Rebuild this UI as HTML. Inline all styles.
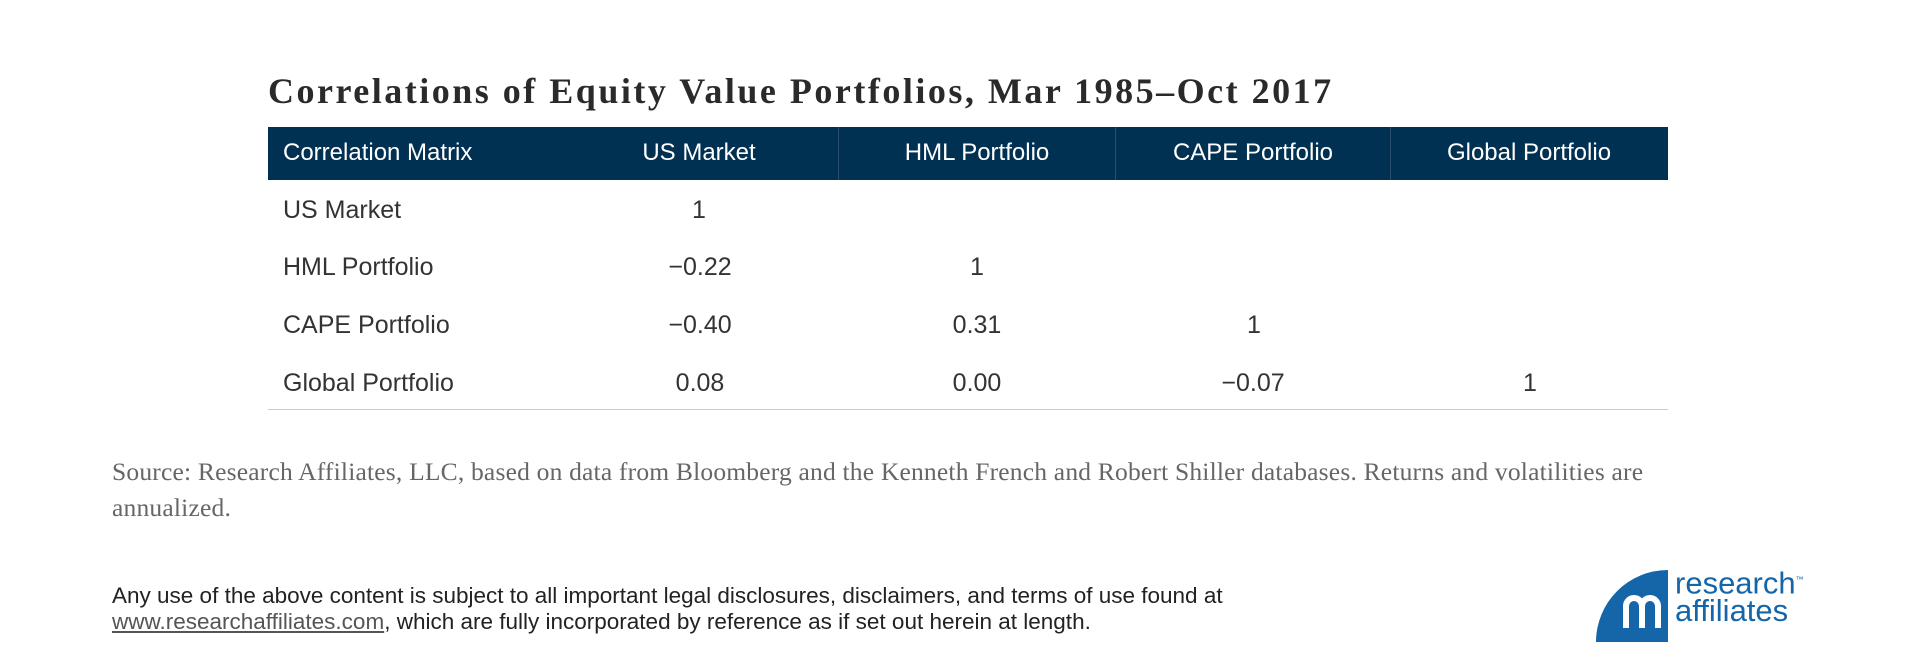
<!DOCTYPE html>
<html><head><style>
body{margin:0;width:1920px;height:670px;background:#fff;position:relative;overflow:hidden;font-family:"Liberation Sans",sans-serif}
.t{position:absolute;white-space:nowrap}
.title{left:268px;top:70px;font-family:"Liberation Serif",serif;font-weight:bold;font-size:36px;letter-spacing:2.5px;color:#2a2a2a}
.hdr{position:absolute;left:268px;top:127px;width:1400px;height:53px;background:#003152}
.sep{position:absolute;top:127px;width:1px;height:53px;background:#2a4e6b}
.h{color:#fff;font-size:24px;top:139px}
.c{font-size:25px;color:#333}
.ctr{transform:translateX(-50%)}
.line{position:absolute;left:268px;top:409px;width:1400px;height:1px;background:#ccc}
.src{left:112px;font-family:"Liberation Serif",serif;font-size:25.5px;letter-spacing:0.2px;color:#666}
.dis{left:112px;font-size:22.5px;color:#222}
</style></head><body>
<div class="t title">Correlations of Equity Value Portfolios, Mar 1985–Oct 2017</div>
<div class="hdr"></div>
<div class="sep" style="left:838px"></div><div class="sep" style="left:1115px"></div><div class="sep" style="left:1390px"></div>
<div class="t h" style="left:283px">Correlation Matrix</div>
<div class="t h ctr" style="left:699px">US Market</div>
<div class="t h ctr" style="left:977px">HML Portfolio</div>
<div class="t h ctr" style="left:1253px">CAPE Portfolio</div>
<div class="t h ctr" style="left:1529px">Global Portfolio</div>

<div class="t c" style="left:283px;top:196px">US Market</div>
<div class="t c" style="left:283px;top:253px">HML Portfolio</div>
<div class="t c" style="left:283px;top:311px">CAPE Portfolio</div>
<div class="t c" style="left:283px;top:369px">Global Portfolio</div>

<div class="t c ctr" style="left:699px;top:196px">1</div>
<div class="t c ctr" style="left:700px;top:253px">−0.22</div>
<div class="t c ctr" style="left:700px;top:311px">−0.40</div>
<div class="t c ctr" style="left:700px;top:369px">0.08</div>
<div class="t c ctr" style="left:977px;top:253px">1</div>
<div class="t c ctr" style="left:977px;top:311px">0.31</div>
<div class="t c ctr" style="left:977px;top:369px">0.00</div>
<div class="t c ctr" style="left:1254px;top:311px">1</div>
<div class="t c ctr" style="left:1253px;top:369px">−0.07</div>
<div class="t c ctr" style="left:1530px;top:369px">1</div>
<div class="line"></div>

<div class="t src" style="top:457px">Source: Research Affiliates, LLC, based on data from Bloomberg and the Kenneth French and Robert Shiller databases. Returns and volatilities are</div>
<div class="t src" style="top:493px">annualized.</div>
<div class="t dis" style="top:583px">Any use of the above content is subject to all important legal disclosures, disclaimers, and terms of use found at</div>
<div class="t dis" style="top:609px"><span style="text-decoration:underline;color:#555">www.researchaffiliates.com</span>, which are fully incorporated by reference as if set out herein at length.</div>

<svg style="position:absolute;left:1596px;top:570px" width="72" height="72"><path d="M0 72 L0 0 A72 72 0 0 1 72 72 Z" fill="#1565a9" transform="translate(72,0) scale(-1,1)"/>
<g fill="none" stroke="#fff" stroke-width="6"><path d="M30 58 V36 A8 8 0 0 1 46 36 V58"/><path d="M46 36 A8 8 0 0 1 62 36 V58"/></g></svg>
<div class="t" style="left:1675px;top:566px;color:#1565a9;font-size:31px;line-height:28px">research<sup style="font-size:8px">™</sup><br>affiliates</div>
</body></html>
